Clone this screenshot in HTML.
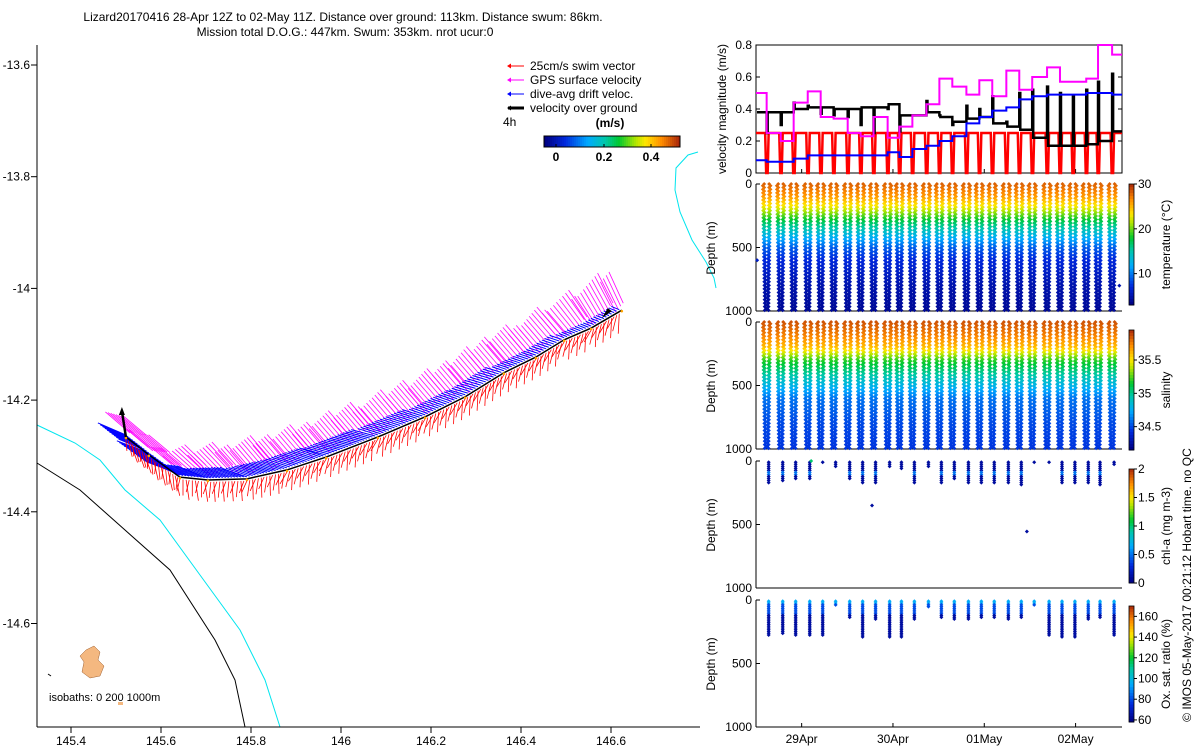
<!DOCTYPE html>
<html><head><meta charset="utf-8"><style>
html,body{margin:0;padding:0;background:#fff}
svg{display:block;font-family:"Liberation Sans",sans-serif}
</style></head><body>
<svg id="s" width="1200" height="750" viewBox="0 0 1200 750" xmlns="http://www.w3.org/2000/svg">
<g font-size="12" text-anchor="middle" fill="#000">
<text x="343" y="21">Lizard20170416 28-Apr 12Z to 02-May 11Z. Distance over ground: 113km. Distance swum: 86km.</text>
<text x="345" y="36">Mission total D.O.G.: 447km. Swum: 353km. nrot ucur:0</text>
</g>
<g id="map"></g>
<g id="vel"></g>
<g id="prof"></g>
<text x="1191" y="585" font-size="12" text-anchor="middle" transform="rotate(-90 1191 585)">© IMOS 05-May-2017 00:21:12 Hobart time. no QC</text>
</svg>
<script>
// ---------- data ----------
const trackLon=[145.522,145.573,145.642,145.704,145.791,145.880,145.967,146.082,146.187,146.276,146.362,146.433,146.496,146.556,146.624];
const trackLat=[-14.266,-14.298,-14.338,-14.343,-14.341,-14.325,-14.302,-14.266,-14.230,-14.194,-14.151,-14.123,-14.092,-14.071,-14.039];
const gpsU=[-0.35,-0.3,-0.3,-0.3,-0.3,-0.3,-0.3,-0.3,-0.3,-0.3,-0.3,-0.3,-0.3,-0.25,-0.2];
const gpsV=[0.3,0.25,0.25,0.3,0.35,0.35,0.35,0.35,0.35,0.35,0.35,0.35,0.35,0.4,0.45];
const driftU=[-0.35,-0.4,-0.35,-0.3,-0.3,-0.3,-0.3,-0.25,-0.2,-0.2,-0.15,-0.15,-0.1,-0.1,-0.1];
const driftV=[0.15,0.15,0.15,0.12,0.1,0.1,0.08,0.08,0.07,0.06,0.05,0.05,0.04,0.04,0.04];
const swimU=[0.05,0.02,0,-0.02,-0.03,-0.05,-0.05,-0.05,-0.05,-0.05,-0.05,-0.05,-0.05,-0.05,-0.05];
const swimV=[-0.25,-0.25,-0.25,-0.25,-0.25,-0.25,-0.25,-0.25,-0.25,-0.25,-0.25,-0.25,-0.25,-0.25,-0.25];
const lonTicks=[145.4,145.6,145.8,146,146.2,146.4,146.6];
const latTicks=[-13.6,-13.8,-14,-14.2,-14.4,-14.6];

const diveH=[14.8,18.5,21.9,25.6,29,32.4,36.1,39.5,42.9,46.6,49.7,53.1,56.8,60.2,63.6,67.3,70.7,74.1,77.8,81.2,84.6,88.5,91.9,95.3,98.8,101.9,105.6];
const gpsSpeed=[0.5,0.25,0.2,0.44,0.51,0.35,0.34,0.25,0.23,0.35,0.22,0.29,0.36,0.43,0.59,0.54,0.49,0.58,0.48,0.64,0.52,0.6,0.66,0.57,0.57,0.59,0.8,0.74];
const vogSpeed=[0.38,0.38,0.38,0.40,0.41,0.41,0.40,0.40,0.41,0.41,0.43,0.36,0.36,0.38,0.35,0.32,0.34,0.35,0.31,0.29,0.27,0.22,0.17,0.17,0.17,0.18,0.2,0.26];
const vogSpike=[0.25,0.3,0.44,0.42,0.37,0.36,0.35,0.3,0.25,0.4,0.26,0.36,0.45,0.36,0.3,0.42,0.4,0.48,0.32,0.5,0.52,0.54,0.5,0.48,0.52,0.57,0.62];
const driftSpeed=[0.08,0.07,0.07,0.09,0.11,0.11,0.11,0.11,0.11,0.11,0.13,0.10,0.15,0.17,0.20,0.23,0.31,0.35,0.39,0.41,0.46,0.48,0.49,0.49,0.49,0.50,0.50,0.49];
const swimSpeed=0.25;
const velTicks=[0,0.2,0.4,0.6,0.8];
const dateLabels=["29Apr","30Apr","01May","02May"];
const dateHours=[24,48,72,96];

const tempDepth=[0,100,200,300,400,500,600,800,1000];
const tempVal=[28,26,22,17,13,9,7,5,4];
const salDepth=[0,100,200,300,400,500,600,800,1000];
const salVal=[35.85,35.75,35.6,35.2,35.0,34.8,34.6,34.5,34.45];
const diveMax=[1000,1000,1000,1000,1000,1000,1000,1000,1000,1000,1000,1000,1000,1000,1000,1000,1000,1000,1000,1000,1000,1000,1000,1000,1000,1000,1000];
const chlMax=[170,160,140,150,10,50,150,170,180,50,60,180,50,180,150,170,180,180,180,200,10,10,180,170,180,190,30];
const oxMax=[280,270,285,280,280,50,140,290,150,300,290,150,60,140,150,150,140,140,150,140,40,280,290,290,150,140,280];
const tempTicks=[10,20,30], salTicks=[34.5,35,35.5], chlTicks=[0,0.5,1,1.5,2], oxTicks=[60,80,100,120,140,160];

// ---------- helpers ----------
const NS="http://www.w3.org/2000/svg";
function el(tag,attrs,parent){const e=document.createElementNS(NS,tag);for(const k in attrs)e.setAttribute(k,attrs[k]);parent.appendChild(e);return e;}
const stops=[[0,[0,0,128]],[0.15,[0,40,220]],[0.32,[0,170,255]],[0.45,[0,200,170]],[0.55,[0,200,50]],[0.68,[180,230,0]],[0.75,[255,230,0]],[0.87,[255,140,0]],[1,[170,40,10]]];
function cmap(t){t=Math.max(0,Math.min(1,t));for(let i=1;i<stops.length;i++){if(t<=stops[i][0]){const a=stops[i-1],b=stops[i];const f=(t-a[0])/(b[0]-a[0]);const c=a[1].map((v,j)=>Math.round(v+(b[1][j]-v)*f));return `rgb(${c[0]},${c[1]},${c[2]})`;}}return "rgb(170,40,10)";}
function interp(xs,ys,x){if(x<=xs[0])return ys[0];for(let i=1;i<xs.length;i++){if(x<=xs[i]){const f=(x-xs[i-1])/(xs[i]-xs[i-1]);return ys[i-1]+f*(ys[i]-ys[i-1]);}}return ys[ys.length-1];}

// ---------- map ----------
const map=document.getElementById('map');
const lonX=l=>71+(l-145.4)*450;
const latY=l=>65+(-13.6-l)*558.5;
let p=el('polyline',{points:"37,425 75,443 100,460 125,490 160,520 200,575 240,630 265,680 280,727",fill:"none",stroke:"#00e5ee","stroke-width":1},map);

p=el('polyline',{points:"37,463 80,490 125,530 170,570 215,640 235,680 245,727",fill:"none",stroke:"#000","stroke-width":1},map);

p=el('polyline',{points:"698,152 688,155 676,168 675,190 680,212 692,240 706,262 714,278 716,288",fill:"none",stroke:"#00e5ee","stroke-width":1},map);

p=el('path',{d:"M86,650 l8,-4 6,6 -2,8 6,6 -4,10 -10,2 -8,-6 2,-10 -4,-6z",fill:"#f4b880",stroke:"#a06030","stroke-width":0.5},map);

el('rect',{x:118,y:702,width:5,height:3,fill:"#f4b880"},map);
el('line',{x1:48,y1:674,x2:51,y2:676,stroke:"#000"},map);
let t=el('text',{x:49,y:701,"font-size":11},map);t.textContent="isobaths: 0   200  1000m";

el('line',{x1:37,y1:45,x2:37,y2:727,stroke:"#000"},map);
el('line',{x1:37,y1:727,x2:700,y2:727,stroke:"#000"},map);
latTicks.forEach(v=>{const y=latY(v);el('line',{x1:31,y1:y,x2:37,y2:y,stroke:"#000"},map);
 const tt=el('text',{x:30,y:y+4,"font-size":12,"text-anchor":"end"},map);tt.textContent=v;
 });
lonTicks.forEach(v=>{const x=lonX(v);el('line',{x1:x,y1:727,x2:x,y2:733,stroke:"#000"},map);
 const tt=el('text',{x:x,y:745,"font-size":12,"text-anchor":"middle"},map);tt.textContent=v;
 });
// vectors
const S=80, SG=70;
const gG=el('g',{},map);
const gB=el('g',{},map);
const gR=el('g',{},map);
for(let i=0;i<trackLon.length-1;i++){
 const x0=lonX(trackLon[i]),y0=latY(trackLat[i]),x1=lonX(trackLon[i+1]),y1=latY(trackLat[i+1]);
 const n=Math.max(4,Math.round(Math.hypot(x1-x0,y1-y0)/3));
 for(let k=0;k<n;k++){const f=k/n;const x=x0+(x1-x0)*f,y=y0+(y1-y0)*f;
  const gu=gpsU[i]+(gpsU[i+1]-gpsU[i])*f, gv=gpsV[i]+(gpsV[i+1]-gpsV[i])*f;
  const o=(k%8)*1.5;
  el('line',{x1:x+4,y1:y-4-o,x2:x+4+gu*SG,y2:y-4-o-gv*SG,stroke:"#ff00ff","stroke-width":0.8},gG);
  el('line',{x1:x,y1:y-2,x2:x+driftU[i]*S,y2:y-2-driftV[i]*S,stroke:"#0000ff","stroke-width":1},gB);
  el('line',{x1:x,y1:y+2,x2:x+swimU[i]*S+((k%3)-1)*3,y2:y+2-swimV[i]*S*(0.6+0.2*(k%3)),stroke:"#ff0000","stroke-width":0.8},gR);
 }
}
const pts=trackLon.map((l,i)=>lonX(l)+","+latY(trackLat[i])).join(" ");
p=el('polyline',{points:pts,fill:"none",stroke:"#000","stroke-width":1.5},map);

trackLon.forEach((l,i)=>{el('circle',{cx:lonX(l),cy:latY(trackLat[i])+1,r:1.3,fill:"#ffa500"},map);});
const x0=lonX(trackLon[0]),y0=latY(trackLat[0]);
p=el('line',{x1:x0,y1:y0,x2:x0-4,y2:y0-26,stroke:"#000","stroke-width":2.5},map);

el('path',{d:`M${x0-7},${y0-22} L${x0-4},${y0-30} L${x0-1},${y0-22}z`,fill:"#000"},map);
const xe=lonX(trackLon[14]),ye=latY(trackLat[14]);
p=el('path',{d:`M${xe-10},${ye+1} L${xe-20},${ye+8} L${xe-14},${ye-2}z`,fill:"#000"},map);

const leg=el('g',{"font-size":12},map);
[["#ff0000","25cm/s swim vector",1],["#ff00ff","GPS surface velocity",1],["#0000ff","dive-avg drift veloc.",1],["#000","velocity over ground",3]].forEach((d,i)=>{
 const y=66+i*14;el('line',{x1:508,y1:y,x2:524,y2:y,stroke:d[0],"stroke-width":d[2]},leg);
 el('path',{d:`M507,${y} l4,-2.5 0,5z`,fill:d[0]},leg);
 const tt=el('text',{x:530,y:y+4},leg);tt.textContent=d[1];});
t=el('text',{x:503,y:126,"font-size":12},map);t.textContent="4h";
t=el('text',{x:610,y:127,"font-size":12,"font-weight":"bold","text-anchor":"middle"},map);t.textContent="(m/s)";
const mcb=el('g',{},map);
for(let i=0;i<68;i++)el('rect',{x:544+i*2,y:136,width:2.2,height:11,fill:cmap(i/67)},mcb);
el('rect',{x:544,y:136,width:136,height:11,fill:"none",stroke:"#000"},mcb);
[[0,556],[0.2,604],[0.4,651]].forEach(d=>{el('line',{x1:d[1],y1:147,x2:d[1],y2:144,stroke:"#000"},mcb);const tt=el('text',{x:d[1],y:161,"font-size":12,"font-weight":"bold","text-anchor":"middle"},mcb);tt.textContent=d[0];});

// ---------- velocity panel ----------
const vel=document.getElementById('vel');
const H0=12,H1=108.2,PX0=756,PX1=1122;
const xT=h=>PX0+(h-H0)/(H1-H0)*(PX1-PX0);
const yV=v=>173-v*160;
el('rect',{x:756,y:45,width:366,height:128,fill:"#fff",stroke:"#000"},vel);
velTicks.forEach(v=>{const y=yV(v);el('line',{x1:756,y1:y,x2:760,y2:y,stroke:"#000"},vel);el('line',{x1:1118,y1:y,x2:1122,y2:y,stroke:"#000"},vel);
 const tt=el('text',{x:752,y:y+4,"font-size":12,"text-anchor":"end"},vel);tt.textContent=v;});
dateHours.forEach(h=>{el('line',{x1:xT(h),y1:173,x2:xT(h),y2:169,stroke:"#000"},vel);});
t=el('text',{x:726,y:109,"font-size":12,"text-anchor":"middle",transform:"rotate(-90 726 109)"},vel);t.textContent="velocity magnitude (m/s)";

function stepPath(vals){let d="";for(let i=0;i<vals.length;i++){const a=i==0?H0:diveH[i-1],b=i==vals.length-1?H1:diveH[i];d+=(i==0?"M":"L")+xT(a)+","+yV(vals[i])+" L"+xT(b)+","+yV(vals[i])+" ";}return d;}
let d="M"+xT(H0)+","+yV(swimSpeed)+" ";
diveH.forEach(h=>{d+=`L${xT(h)-1.5},${yV(swimSpeed)} L${xT(h)-0.5},${yV(0)} L${xT(h)+1},${yV(0)} L${xT(h)+2},${yV(swimSpeed)} `;});
d+="L"+xT(H1)+","+yV(swimSpeed);
p=el('path',{d:d,fill:"none",stroke:"#ff0000","stroke-width":2.5},vel);
d="";for(let i=0;i<vogSpeed.length;i++){const a=i==0?H0:diveH[i-1],b=i==vogSpeed.length-1?H1:diveH[i];
 if(i>0){d+=`L${xT(a)},${yV(vogSpike[i-1])} L${xT(a)+1},${yV(vogSpike[i-1])} `;}
 d+=(i==0?"M":"L")+(xT(a)+1)+","+yV(vogSpeed[i])+" L"+xT(b)+","+yV(vogSpeed[i])+" ";}
p=el('path',{d:d,fill:"none",stroke:"#000","stroke-width":2.5},vel);
p=el('path',{d:stepPath(gpsSpeed),fill:"none",stroke:"#ff00ff","stroke-width":2},vel);
p=el('path',{d:stepPath(driftSpeed),fill:"none",stroke:"#0000ff","stroke-width":2},vel);

// ---------- profile panels ----------
const prof=document.getElementById('prof');
function panel(name,top,cbTop,cbBot,ticks,tmin,tmax,label){
 const g=el('g',{},prof);
 const bot=top+127;
 el('line',{x1:756,y1:top,x2:756,y2:bot,stroke:"#000"},g);el('line',{x1:756,y1:bot,x2:1122,y2:bot,stroke:"#000"},g);
 [[0,top],[500,top+63.5],[1000,bot]].forEach(a=>{el('line',{x1:756,y1:a[1],x2:760,y2:a[1],stroke:"#000"},g);
  const tt=el('text',{x:752,y:a[1]+4,"font-size":12,"text-anchor":"end"},g);tt.textContent=a[0];});
 const tt=el('text',{x:715,y:top+64,"font-size":12,"text-anchor":"middle",transform:`rotate(-90 715 ${top+64})`},g);tt.textContent="Depth (m)";
 
 const cb=el('g',{},g);
 const n=40,hh=(cbBot-cbTop)/n;for(let i=0;i<n;i++)el('rect',{x:1129,y:cbTop+i*hh,width:5,height:hh+0.5,fill:cmap(1-(i+0.5)/n)},cb);
 el('rect',{x:1129,y:cbTop,width:5,height:cbBot-cbTop,fill:"none",stroke:"#000","stroke-width":0.8},cb);
 ticks.forEach(v=>{const y=cbBot-(v-tmin)/(tmax-tmin)*(cbBot-cbTop);el('line',{x1:1134,y1:y,x2:1137,y2:y,stroke:"#000"},cb);
  const l=el('text',{x:1138,y:y+4,"font-size":12},cb);l.textContent=v;});
 const lx=1170,ly=(cbTop+cbBot)/2;
 const lt=el('text',{x:lx,y:ly,"font-size":12,"text-anchor":"middle",transform:`rotate(-90 ${lx} ${ly})`},g);lt.textContent=label;
 
 return {g,top,bot,yD:z=>top+z*0.127,col:v=>cmap((v-tmin)/(tmax-tmin))};
}
function dot(g,x,y,c){el('path',{d:`M${x-2},${y} L${x},${y-2} L${x+2},${y} L${x},${y+2}z`,fill:c},g);}
const pT=panel('temperature',184,184,305,tempTicks,3,30,"temperature (°C)");
const pS=panel('salinity',322,330,450,salTicks,34.15,35.95,"salinity");
const pC=panel('chlorophyll',461,469,583,chlTicks,0,2,"chl-a (mg m-3)");
const pO=panel('oxygen',600,606,722,oxTicks,58,170,"Ox. sat. ratio (%)");
diveH.forEach((h,i)=>{
 const xd=xT(h);
 for(let z=0;z<=diveMax[i];z+=14){
  const w=3.2-2*z/1000, zz=(z%28==0)?1:-1;
  [xd-w+zz*0.7,xd+w-zz*0.7].forEach(x=>{
   dot(pT.g,x,pT.yD(z),pT.col(interp(tempDepth,tempVal,z)));
   dot(pS.g,x,pS.yD(z),pS.col(interp(salDepth,salVal,z)));});
 }
 for(let z=10;z<=chlMax[i];z+=16){const v=(z>80&&z<120)?0.5:0.1;dot(pC.g,xd+((z/16)%2?2:-2),pC.yD(z),pC.col(v));}
 for(let z=10;z<=oxMax[i];z+=14){const v=z<30?95:(z<120?80:64);dot(pO.g,xd+((z/14)%2?2:-2),pO.yD(z),pO.col(v));}
});
dot(pC.g,xT(26.5),pC.yD(0),pC.col(1.0));
dot(pC.g,xT(42.5),pC.yD(350),pC.col(0.1));
dot(pC.g,xT(83.2),pC.yD(555),pC.col(0.1));
dot(pT.g,xT(12.3),pT.yD(600),pT.col(6));dot(pT.g,xT(107.5),pT.yD(800),pT.col(5));
dateLabels.forEach((s,i)=>{const x=xT(dateHours[i]);el('line',{x1:x,y1:727,x2:x,y2:723,stroke:"#000"},prof);
 const tt=el('text',{x:x,y:743,"font-size":12,"text-anchor":"middle"},prof);tt.textContent=s;});
</script>
</body></html>
